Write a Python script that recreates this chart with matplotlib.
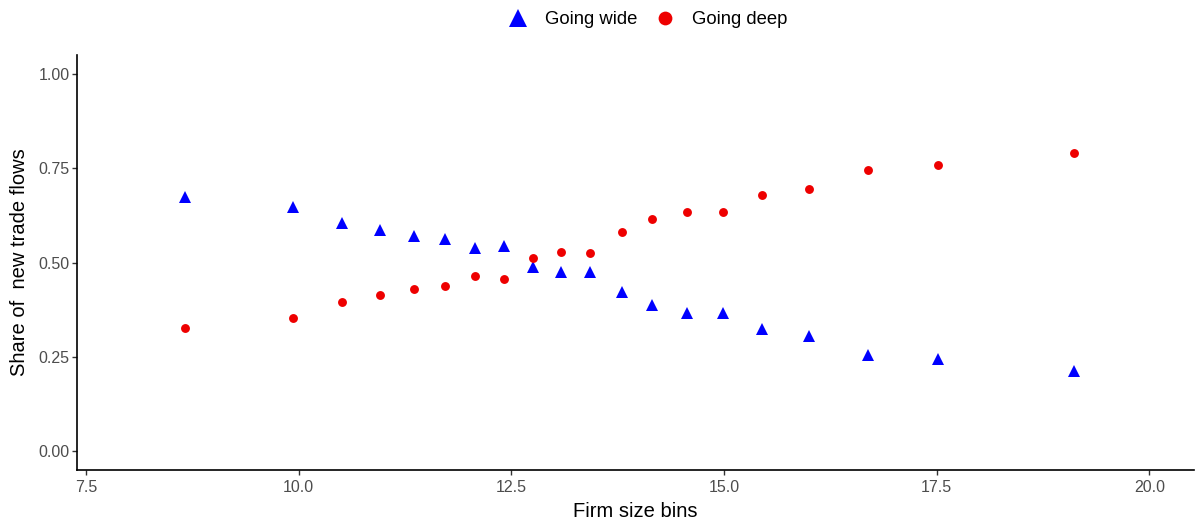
import matplotlib
matplotlib.use("Agg")
import matplotlib.pyplot as plt

# Firm size bins and shares of new trade flows
firm_size = [8.66, 9.93, 10.51, 10.96, 11.36, 11.72, 12.07, 12.41, 12.75, 13.09,
             13.43, 13.80, 14.16, 14.57, 14.99, 15.45, 16.00, 16.69, 17.52, 19.11]
going_wide = [0.674, 0.646, 0.606, 0.587, 0.571, 0.562, 0.538, 0.545, 0.489, 0.474,
              0.475, 0.421, 0.388, 0.367, 0.367, 0.323, 0.306, 0.256, 0.243, 0.212]
going_deep = [0.327, 0.354, 0.395, 0.415, 0.430, 0.438, 0.463, 0.456, 0.511, 0.527,
              0.525, 0.580, 0.614, 0.635, 0.635, 0.678, 0.694, 0.744, 0.758, 0.790]

x_ticks = [7.5, 10.0, 12.5, 15.0, 17.5, 20.0]
y_ticks = [0.00, 0.25, 0.50, 0.75, 1.00]

plt.rcParams['font.family'] = ['Liberation Sans', 'DejaVu Sans']

W, H = 1196, 522
fig = plt.figure(figsize=(W / 100, H / 100), dpi=100)
ax = fig.add_axes([77.3 / W, 1 - 470 / H, (1194 - 77.3) / W, (470 - 55) / H])

ax.plot(firm_size, going_wide, linestyle='none', marker='^', markersize=8.0,
        color='blue', markeredgewidth=0, label='Going wide')
ax.plot(firm_size, going_deep, linestyle='none', marker='o', markersize=6.4,
        color='#EE0000', markeredgewidth=0, label='Going deep')

ax.set_xlim(7.398, 20.526)
ax.set_ylim(-0.05, 1.05)
ax.set_xticks(x_ticks)
ax.set_xticklabels([f"{v:.1f}" for v in x_ticks])
ax.set_yticks(y_ticks)
ax.set_yticklabels([f"{v:.2f}" for v in y_ticks])

# classic theme: only left and bottom axis lines
for side in ['top', 'right']:
    ax.spines[side].set_visible(False)
for side in ['left', 'bottom']:
    ax.spines[side].set_linewidth(1.2)
    ax.spines[side].set_color('black')

ax.tick_params(axis='x', pad=4)
ax.tick_params(axis='y', pad=2)
ax.tick_params(axis='both', length=3.5, width=1.0, color='#333333',
               labelcolor='#4D4D4D', labelsize=11.5)

ax.set_xlabel('Firm size bins', fontsize=14.5, color='black', labelpad=5)
ax.set_ylabel('Share of  new trade flows', fontsize=14.5, color='black')
ax.yaxis.set_label_coords(-0.043, 0.5)

fig.legend(loc='center', bbox_to_anchor=(648 / W, 1 - 20 / H), ncol=2,
           frameon=False, fontsize=13.3, markerscale=1.55, handlelength=1.0,
           handletextpad=0.95, columnspacing=1.0)

fig.savefig('out.png', dpi=100)
